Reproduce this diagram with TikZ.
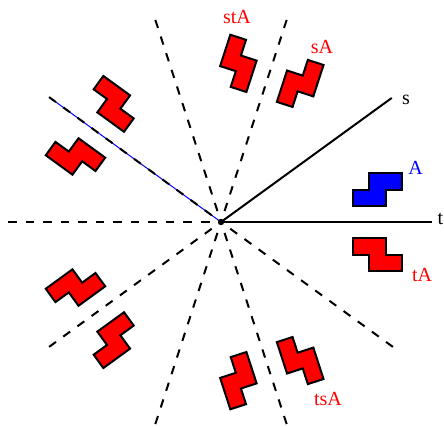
\documentclass[tikz,border=0pt]{standalone}
\usepackage{fontspec}
\setmainfont{Liberation Serif}
\tikzset{
  axisline/.style={line width=2pt},
  mirrorline/.style={line width=2pt, dash pattern=on 8.5pt off 9pt},
  piece/.style={line width=2pt, draw=black, line join=miter},
  lbl/.style={inner sep=0pt, anchor=base, font=\fontsize{20}{24}\selectfont},
}
\newcommand{\tetropath}{(131.5,16) -- ++(33,0) -- ++(0,16.5) -- ++(16.5,0) -- ++(0,16.5) -- ++(-33,0) -- ++(0,-16.5) -- ++(-16.5,0) -- cycle}
\begin{document}
\begin{tikzpicture}[x=1pt,y=1pt]
\useasboundingbox (-221,-204) rectangle (223,222);
\coordinate (O) at (0,0);
\coordinate (T) at (0:211);
\coordinate (S) at (36:211);
\foreach \a in {72,108,144,180,216,252,288,324}{
  \coordinate (E\a) at (\a:212.5);
}
% blue line under the 144 mirror
\draw[blue, line width=1pt] (O) -- (E144);
\foreach \a in {72,108,144,180,216,252,288,324}{
  \draw[mirrorline] (E\a) -- (O);
}
\draw[axisline] (O) -- (T);
\draw[axisline] (O) -- (S);
\fill (O) circle (3.2);
% pieces
\filldraw[piece, fill=blue] \tetropath;
\foreach \k in {1,2,3,4}{
  \filldraw[piece, fill=red, rotate=72*\k] \tetropath;
}
\foreach \k in {0,1,2,3,4}{
  \filldraw[piece, fill=red, rotate=72*\k, yscale=-1] \tetropath;
}
% labels
\node[lbl, text=blue] (lA) at (194.5,48) {A};
\node[lbl, text=red] (lstA) at (16,198.7) {stA};
\node[lbl, text=red] (lsA) at (101,168.7) {sA};
\node[lbl, text=red] (ltA) at (201,-59.7) {tA};
\node[lbl, text=red] (ltsA) at (107,-183) {tsA};
\node[lbl] (ls) at (185,118) {s};
\node[lbl] (lt) at (219.5,-2) {t};
\end{tikzpicture}
\end{document}
